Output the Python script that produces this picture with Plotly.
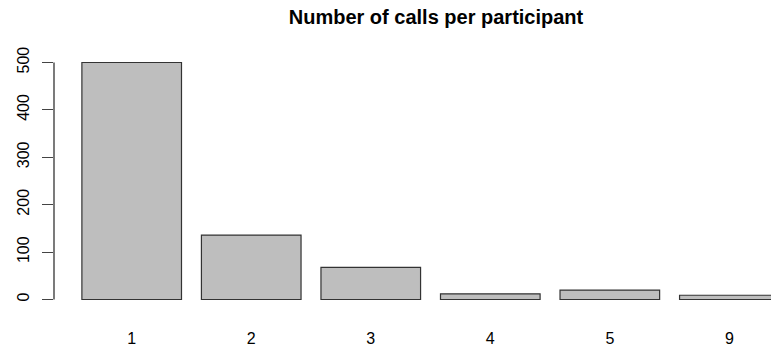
import plotly.graph_objects as go

categories = ["1", "2", "3", "4", "5", "9"]
counts = [500, 136, 68, 12, 20, 9]
y_ticks = [0, 100, 200, 300, 400, 500]

# R barplot layout: width 1, space 0.2
bar_width = 1.0
space = 0.2
positions = [space + bar_width / 2 + i * (bar_width + space) for i in range(len(categories))]

FONT = "Liberation Sans, Arial, sans-serif"

fig = go.Figure()
fig.add_trace(go.Bar(
    x=positions,
    y=counts,
    width=bar_width,
    marker=dict(color="#bebebe", line=dict(color="#333333", width=1.2)),
    hoverinfo="y",
))

fig.update_layout(
    width=771,
    height=349,
    margin=dict(l=54, r=0, t=53, b=40, autoexpand=False),
    paper_bgcolor="white",
    plot_bgcolor="white",
    showlegend=False,
    font=dict(family=FONT, size=16, color="black"),
    title=dict(
        text="<b>Number of calls per participant</b>",
        font=dict(family=FONT, size=20, color="black"),
        xref="container", x=436 / 771, xanchor="center",
        yref="container", y=1 - 17 / 349, yanchor="middle",
    ),
    xaxis=dict(
        range=[-0.08, 7.118],
        tickvals=positions,
        ticktext=categories,
        ticks="",
        showline=False,
        showgrid=False,
        zeroline=False,
        automargin=False,
        ticklabelstandoff=18,
        tickfont=dict(family=FONT, size=16, color="black"),
    ),
    yaxis=dict(
        range=[-20, 520],
        tickvals=y_ticks,
        ticktext=[str(v) for v in y_ticks],
        ticks="outside",
        ticklen=11,
        tickwidth=1.2,
        tickcolor="#444444",
        tickangle=-90,
        showline=False,
        showgrid=False,
        zeroline=False,
        automargin=False,
        ticklabelstandoff=7,
        tickfont=dict(family=FONT, size=16, color="black"),
    ),
    shapes=[dict(
        type="line", xref="paper", yref="y",
        x0=0, x1=0, y0=min(y_ticks), y1=max(y_ticks),
        line=dict(color="#222222", width=1.2),
    )],
)

fig.write_html(
    "out.html",
    config={"displayModeBar": False},
    post_script="document.body.style.margin='0px'; document.body.style.overflow='hidden';",
)
